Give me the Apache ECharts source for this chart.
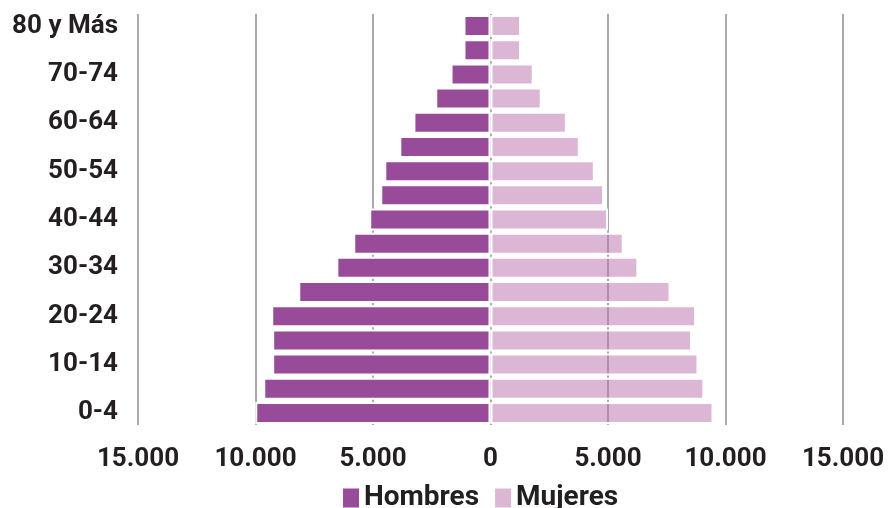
<!DOCTYPE html>
<html>
<head>
<meta charset="utf-8">
<script src="https://cdn.jsdelivr.net/npm/echarts@6/dist/echarts.min.js"></script>
<style>html,body{margin:0;padding:0;background:#fff}#c{width:892px;height:508px}</style>
</head>
<body>
<div id="c"></div>
<script>
const categories = ['0-4','5-9','10-14','15-19','20-24','25-29','30-34','35-39','40-44','45-49','50-54','55-59','60-64','65-69','70-74','75-79','80 y Más'];
const hombres = [10010, 9670, 9290, 9290, 9330, 8180, 6560, 5840, 5160, 4690, 4520, 3880, 3280, 2350, 1700, 1150, 1150];
const mujeres = [9490, 9100, 8850, 8580, 8750, 7660, 6290, 5670, 5000, 4830, 4440, 3800, 3250, 2180, 1840, 1300, 1300];
const xTicks = [-15000, -10000, -5000, 0, 5000, 10000, 15000];

const FONT = 'Roboto';
const TXT = '#231f20';
function fmt(v){ return Math.abs(v).toString().replace(/\B(?=(\d{3})+(?!\d))/g, '.'); }

const chart = echarts.init(document.getElementById('c'), null, {renderer:'canvas'});
chart.setOption({
  animation:false,
  grid:{left:138, right:49, top:14, bottom:83},
  legend:{
    top:479, left:336, icon:'rect', itemWidth:18, itemHeight:21, itemGap:14,
    textStyle:{fontFamily:FONT, fontWeight:'bold', fontSize:28, color:TXT, padding:[0,0,0,-1]},
    data:['Hombres','Mujeres']
  },
  xAxis:{
    type:'value', min:xTicks[0], max:xTicks[xTicks.length-1], interval:5000,
    axisLine:{show:false}, axisTick:{show:false},
    splitLine:{show:true, lineStyle:{color:'#aaa9ad', width:2}},
    axisLabel:{formatter:fmt, fontFamily:FONT, fontWeight:'bold', fontSize:26, color:TXT, margin:21}
  },
  yAxis:{
    type:'category', data:categories,
    axisLine:{show:false}, axisTick:{show:false},
    axisLabel:{interval:1, fontFamily:FONT, fontWeight:'bold', fontSize:26, color:TXT, margin:20}
  },
  series:[
    {name:'Mujeres', type:'bar', data:mujeres, barWidth:22, barGap:'-100%', z:2,
     itemStyle:{color:'rgba(185,111,171,0.5)', borderColor:'#fff', borderWidth:2}},
    {name:'Hombres', type:'bar', data:hombres.map(v=>-v), barWidth:22, barGap:'-100%', z:3,
     itemStyle:{color:'#974b99', borderColor:'#fff', borderWidth:2}}
  ]
});
</script>
</body>
</html>
